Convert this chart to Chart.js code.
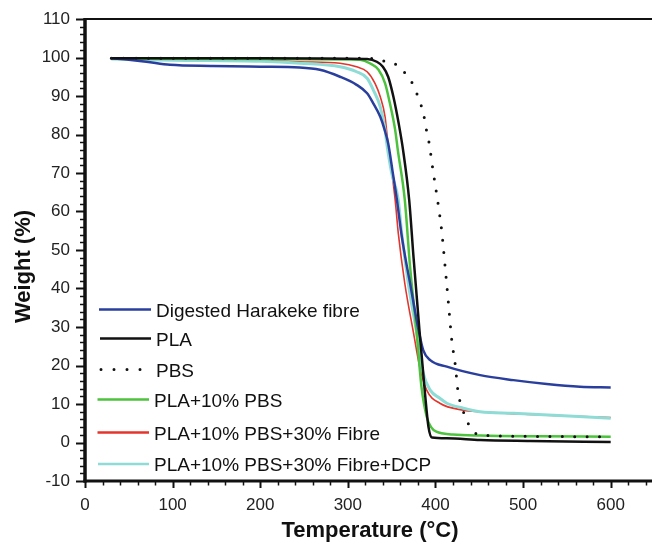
<!DOCTYPE html>
<html>
<head>
<meta charset="utf-8">
<title>TGA</title>
<script src="https://cdn.jsdelivr.net/npm/chart.js@4/dist/chart.umd.min.js"></script>
<style>
  html, body { margin: 0; padding: 0; background: #fff; overflow: hidden; }
  #wrap { width: 666px; height: 543px; }
</style>
</head>
<body>
<div id="wrap"><canvas id="tga"></canvas></div>
<script>
// ═══════════════════════════════════════
//  DONNÉES (température °C / masse %)
// ═══════════════════════════════════════

const seriesLabels = [
  'Digested Harakeke fibre',
  'PLA',
  'PBS',
  'PLA+10% PBS',
  'PLA+10% PBS+30% Fibre',
  'PLA+10% PBS+30% Fibre+DCP'
];

const fibreT = [30, 50, 70, 97, 146, 200, 245, 268, 291, 310, 322, 329, 337, 342, 346, 351, 356, 361, 366, 371, 376, 380, 386, 394, 413, 451, 489, 527, 565, 600];
const fibreW = [99.8, 99.4, 98.9, 98.1, 97.8, 97.6, 97.4, 96.8, 95.0, 92.9, 90.7, 88.1, 84.6, 81.2, 77.7, 70.5, 63, 54.4, 47.5, 41.4, 35, 30, 24, 21.4, 19.7, 17.5, 16.2, 15.2, 14.5, 14.3];

const plaT = [30, 100, 200, 300, 322, 333, 340, 346, 352, 358, 363, 370, 375, 382, 388, 392, 396, 413, 451, 508, 600];
const plaW = [99.8, 99.8, 99.8, 99.7, 99.6, 98.9, 97.6, 95, 89.8, 82.9, 76, 63, 48, 28.4, 12.9, 4.1, 1.3, 1.1, 0.65, 0.4, 0.1];

const pbsT = [30, 100, 200, 300, 330, 340.5, 352.7, 361.5, 369, 375, 379.6, 383.5, 387, 389.3, 392.3, 397, 403, 407, 411, 414.8, 418.6, 422.4, 426, 430, 435.7, 441, 449, 462, 500, 600];
const pbsW = [99.8, 99.8, 99.8, 99.8, 99.7, 99.1, 98.5, 96.9, 94.9, 92.7, 90.1, 87.7, 84.6, 81.6, 78.4, 71, 62, 55.2, 45.7, 36.2, 26.6, 20.5, 12.8, 9.3, 5.8, 3.4, 2.1, 1.8, 1.6, 1.5];

const blendT = [30, 100, 200, 300, 314, 325, 335, 342.5, 348, 354, 357, 365, 371, 378.6, 384, 390, 395, 401, 420, 451, 520, 600];
const blendW = [99.8, 99.7, 99.6, 99.5, 99.4, 98.5, 96.8, 93.3, 88.1, 81.2, 76, 63, 45.7, 28.4, 14.5, 6.7, 4.0, 2.8, 2.1, 1.8, 1.6, 1.5];

const compT = [30, 100, 200, 245, 291, 310, 322, 331, 337, 342.5, 345, 354, 357.6, 365, 375, 382, 390, 405, 432, 451, 527, 600];
const compW = [99.7, 99.5, 99.3, 98.9, 98.5, 97.6, 96.3, 93.3, 89.8, 84.6, 79.4, 63, 54.3, 41.3, 28.4, 19.7, 13.6, 10.2, 8.4, 8.0, 7.1, 6.5];

const dcpT = [30, 100, 200, 245, 291, 310, 322, 329, 337, 342.5, 344.4, 350, 357.6, 361.5, 369, 378.6, 386, 394, 405, 413, 432, 451, 489, 600];
const dcpW = [99.6, 99.3, 99.0, 98.5, 97.6, 96.3, 94.6, 91.6, 87.2, 81.2, 77.7, 70, 63, 54.3, 41.3, 28.4, 18, 13.6, 11.5, 10.2, 8.9, 8.0, 7.6, 6.3];

const xTicks = [0, 100, 200, 300, 400, 500, 600];
const yTicks = [-10, 0, 10, 20, 30, 40, 50, 60, 70, 80, 90, 100, 110];

const toPoints = (t, w) => t.map((x, i) => ({ x, y: w[i] }));

// ═══════════════════════════════════════
//  STYLES DES COURBES
// ═══════════════════════════════════════

const styles = [
  { color: '#2a3f9d', width: 2.5, dash: [],        order: 1 },
  { color: '#111111', width: 2.5, dash: [],        order: 0 },
  { color: '#111111', width: 3,   dash: [0, 12.4], order: 2 },
  { color: '#4dc23e', width: 2.5, dash: [],        order: 3 },
  { color: '#e4342b', width: 1.6, dash: [],        order: 5 },
  { color: '#8fdcd6', width: 3,   dash: [],        order: 4 }
];

const allPoints = [
  toPoints(fibreT, fibreW),
  toPoints(plaT, plaW),
  toPoints(pbsT, pbsW),
  toPoints(blendT, blendW),
  toPoints(compT, compW),
  toPoints(dcpT, dcpW)
];

const datasets = seriesLabels.map((label, i) => ({
  label,
  data: allPoints[i],
  borderColor: styles[i].color,
  backgroundColor: styles[i].color,
  borderWidth: styles[i].width,
  borderDash: styles[i].dash,
  borderCapStyle: styles[i].dash.length ? 'round' : 'butt',
  pointRadius: 0,
  cubicInterpolationMode: 'monotone',
  fill: false,
  order: styles[i].order
}));

// ═══════════════════════════════════════
//  CADRE, GRADUATIONS, TITRES, LÉGENDE
// ═══════════════════════════════════════

const framePlugin = {
  id: 'frame',
  afterDraw(chart) {
    const ctx = chart.ctx;
    const xs = chart.scales.x;
    const ys = chart.scales.y;
    const area = chart.chartArea;

    ctx.save();
    ctx.strokeStyle = '#111';
    ctx.lineCap = 'butt';

    // graduations verticales (majeures tous les 10, mineures tous les 2)
    for (let v = ys.min; v <= ys.max + 0.001; v += 2) {
      const y = Math.round(ys.getPixelForValue(v)) + 0.5;
      const major = Math.abs(v % 10) < 0.001;
      ctx.lineWidth = major ? 2 : 1.5;
      ctx.beginPath();
      ctx.moveTo(area.left - (major ? 9 : 5), y);
      ctx.lineTo(area.left, y);
      ctx.stroke();
    }

    // graduations horizontales (majeures tous les 100, mineures tous les 20)
    for (let v = xs.min; v <= xs.max; v += 20) {
      const x = Math.round(xs.getPixelForValue(v)) + 0.5;
      const major = v % 100 === 0;
      ctx.lineWidth = major ? 2 : 1.5;
      ctx.beginPath();
      ctx.moveTo(x, area.bottom);
      ctx.lineTo(x, area.bottom + (major ? 7 : 4.5));
      ctx.stroke();
    }

    // axes
    ctx.lineWidth = 3.5;
    ctx.beginPath();
    ctx.moveTo(area.left, area.top - 1);
    ctx.lineTo(area.left, area.bottom + 1.5);
    ctx.stroke();

    ctx.lineWidth = 3;
    ctx.beginPath();
    ctx.moveTo(area.left - 1.5, area.bottom);
    ctx.lineTo(chart.width, area.bottom);
    ctx.stroke();

    ctx.lineWidth = 2;
    ctx.beginPath();
    ctx.moveTo(area.left, area.top);
    ctx.lineTo(chart.width, area.top);
    ctx.stroke();

    // titres des axes
    ctx.fillStyle = '#111';
    ctx.font = 'bold 22px "Liberation Sans", Arial, sans-serif';
    ctx.textAlign = 'center';
    ctx.textBaseline = 'alphabetic';
    ctx.fillText('Temperature (\u00B0C)', 370, 537);

    ctx.save();
    ctx.translate(30, 266.5);
    ctx.rotate(-Math.PI / 2);
    ctx.fillText('Weight (%)', 0, 0);
    ctx.restore();

    // légende
    const rows = [
      { y: 309.5, x0: 99,  x1: 151, tx: 156 },
      { y: 338.5, x0: 100, x1: 151, tx: 156 },
      { y: 369.5, x0: 101, x1: 141, tx: 156 },
      { y: 399.5, x0: 97.5, x1: 149, tx: 154 },
      { y: 432.5, x0: 97.5, x1: 149, tx: 154 },
      { y: 464,   x0: 98,  x1: 149, tx: 154 }
    ];
    ctx.font = '19px "Liberation Sans", Arial, sans-serif';
    ctx.textAlign = 'left';
    chart.data.datasets.forEach((ds, i) => {
      const r = rows[i];
      ctx.strokeStyle = ds.borderColor;
      ctx.lineWidth = ds.borderDash.length ? 3 : 2.5;
      ctx.lineCap = ds.borderDash.length ? 'round' : 'butt';
      ctx.setLineDash(ds.borderDash.length ? [0, 13] : []);
      ctx.beginPath();
      ctx.moveTo(r.x0, r.y);
      ctx.lineTo(r.x1, r.y);
      ctx.stroke();
      ctx.setLineDash([]);
      ctx.fillStyle = '#111';
      ctx.fillText(ds.label, r.tx, r.y + 7);
    });

    ctx.restore();
  }
};

// ═══════════════════════════════════════
//  GRAPHE
// ═══════════════════════════════════════

const tickFont = { family: '"Liberation Sans", Arial, sans-serif', size: 17 };

new Chart(document.getElementById('tga'), {
  type: 'line',
  data: { datasets },
  options: {
    responsive: true,
    maintainAspectRatio: false,
    animation: false,
    layout: { padding: { top: 19, right: 11.5, left: 0, bottom: 0 } },
    plugins: {
      legend: { display: false },
      tooltip: { enabled: false }
    },
    scales: {
      x: {
        type: 'linear',
        min: 0,
        max: 650,
        afterFit: s => { s.height = 62; s.paddingLeft = 0; s.paddingRight = 0; },
        afterBuildTicks: s => { s.ticks = xTicks.map(value => ({ value })); },
        grid: { display: false, drawTicks: false },
        border: { display: false },
        ticks: { color: '#222', font: tickFont, padding: 14, maxRotation: 0 }
      },
      y: {
        min: -10,
        max: 110,
        afterFit: s => { s.width = 85; s.paddingTop = 0; s.paddingBottom = 0; },
        afterBuildTicks: s => { s.ticks = yTicks.map(value => ({ value })); },
        grid: { display: false, drawTicks: false },
        border: { display: false },
        ticks: { color: '#222', font: tickFont, padding: 15 }
      }
    }
  },
  plugins: [framePlugin]
});
</script>
</body>
</html>
